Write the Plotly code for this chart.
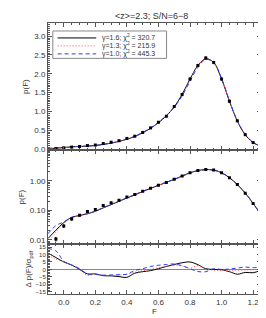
import plotly.graph_objects as go

# ---- data ----
F_model = [-0.10, -0.05, 0.00, 0.05, 0.10, 0.15, 0.20, 0.25, 0.30, 0.35, 0.40, 0.45, 0.50, 0.55,
           0.60, 0.65, 0.70, 0.75, 0.80, 0.85, 0.90, 0.95, 1.00, 1.05, 1.10, 1.15, 1.20, 1.25]
p_g16 = [0.011, 0.021, 0.038, 0.057, 0.066, 0.076, 0.092, 0.120, 0.155, 0.200, 0.260, 0.330, 0.430, 0.550,
         0.700, 0.880, 1.120, 1.450, 1.860, 2.220, 2.400, 2.300, 1.860, 1.270, 0.740, 0.380, 0.170, 0.070]
p_g13 = [0.008, 0.018, 0.035, 0.055, 0.066, 0.075, 0.093, 0.122, 0.158, 0.205, 0.262, 0.335, 0.432, 0.552,
         0.705, 0.885, 1.110, 1.420, 1.840, 2.220, 2.390, 2.300, 1.870, 1.280, 0.745, 0.385, 0.172, 0.071]
p_g10 = [0.016, 0.030, 0.040, 0.058, 0.068, 0.077, 0.094, 0.123, 0.160, 0.207, 0.265, 0.340, 0.440, 0.560,
         0.710, 0.890, 1.110, 1.410, 1.800, 2.170, 2.380, 2.300, 1.880, 1.290, 0.750, 0.390, 0.175, 0.072]

F_data = [-0.05, 0.00, 0.05, 0.10, 0.15, 0.20, 0.25, 0.30, 0.35, 0.40, 0.45, 0.50, 0.55,
          0.60, 0.65, 0.70, 0.75, 0.80, 0.85, 0.90, 0.95, 1.00, 1.05, 1.10, 1.15, 1.20, 1.25]
p_data = [0.0105, 0.029, 0.050, 0.067, 0.090, 0.105, 0.145, 0.180, 0.220, 0.280, 0.340, 0.440, 0.560,
          0.710, 0.870, 1.130, 1.450, 1.860, 2.220, 2.420, 2.300, 1.860, 1.270, 0.750, 0.380, 0.170, 0.070]
p_err = [0.0015, 0.003, 0.004, 0.004, 0.005, 0.005, 0.006, 0.007, 0.008, 0.009, 0.010, 0.012, 0.014,
         0.016, 0.018, 0.020, 0.024, 0.028, 0.030, 0.032, 0.030, 0.028, 0.024, 0.018, 0.012, 0.008, 0.005]

res_g16 = [11.0, 8.0, 5.0, 3.0, 0.0, -3.0, -3.0, -4.2, -4.3, -4.8, -5.3, -2.5, -1.5, -0.8,
           0.5, 2.0, 3.3, 4.5, 5.0, 3.2, 0.5, 0.0, -0.2, -1.5, -3.2, -2.0, -2.2, -0.5]
res_g13 = [9.5, 7.0, 5.0, 3.0, 0.0, -4.0, -3.0, -4.0, -4.2, -3.8, -3.2, -1.9, -0.8, 0.0,
           1.2, 2.0, 2.8, 2.3, 0.9, 2.5, 0.3, -0.5, -0.7, -0.6, -0.5, -0.4, -0.3, 0.0]
res_g10 = [14.0, 12.5, 5.5, 3.0, 0.5, -3.0, -3.3, -3.8, -3.7, -3.5, -3.2, -0.7, 0.5, 2.0,
           2.8, 3.3, 3.7, 2.5, 0.5, -1.4, -1.5, 0.5, 0.0, 0.3, 0.9, 1.6, 1.2, 1.5]

legend_names = ["γ=1.6; χ<sup>2</sup> = 320.7", "γ=1.3; χ<sup>2</sup> = 215.9", "γ=1.0; χ<sup>2</sup> = 445.3"]
title_text = "&lt;z&gt;=2.3; S/N=6−8"

# ---- styles ----
models = [
    (p_g16, res_g16, dict(color="black", width=1, dash="solid")),
    (p_g13, res_g13, dict(color="#ff5050", width=1, dash="1px,2px")),
    (p_g10, res_g10, dict(color="#2a3cff", width=1, dash="4px,3px")),
]
FONT = "Liberation Sans, Arial, sans-serif"
W, H = 266, 318
ML, MR, MT, MB = 32, 13, 15, 31
PW, PH = W - ML - MR, H - MT - MB


def px(xp):
    return (xp - ML) / PW


def py(yp):
    return 1 - (yp - MT) / PH


fig = go.Figure()
for i, (p, r, ln) in enumerate(models):
    fig.add_trace(go.Scatter(x=F_model, y=p, mode="lines", line=dict(shape="spline", **ln),
                             name=legend_names[i], xaxis="x", yaxis="y", showlegend=False))
    fig.add_trace(go.Scatter(x=F_model, y=p, mode="lines", line=dict(shape="spline", **ln),
                             xaxis="x2", yaxis="y2", showlegend=False))
    fig.add_trace(go.Scatter(x=F_model, y=r, mode="lines", line=dict(shape="spline", **ln),
                             xaxis="x3", yaxis="y3", showlegend=False))

for xa, ya in [("x", "y"), ("x2", "y2")]:
    fig.add_trace(go.Scatter(x=F_data, y=p_data, mode="markers",
                             marker=dict(symbol="square", size=3, color="black"),
                             error_y=dict(type="data", array=p_err, color="black", thickness=1, width=0.5),
                             xaxis=xa, yaxis=ya, showlegend=False))

# hand-built compact legend (box, sample lines, labels)
shapes = [dict(type="rect", xref="paper", yref="paper", x0=px(37), x1=px(155), y0=py(50.5), y1=py(23),
               line=dict(color="#888", width=1), fillcolor="white", layer="above")]
annotations = []
row_y = [30, 38, 46]
for i, (p, r, ln) in enumerate(models):
    shapes.append(dict(type="line", xref="paper", yref="paper", x0=px(42), x1=px(82),
                       y0=py(row_y[i]), y1=py(row_y[i]),
                       line=dict(color=ln["color"], width=1, dash=ln["dash"]), layer="above"))
    annotations.append(dict(text=legend_names[i], xref="paper", yref="paper", x=px(86), y=py(row_y[i]),
                            xanchor="left", yanchor="middle", showarrow=False,
                            font=dict(size=7, family=FONT, color="#333")))

axis_common = dict(showline=True, linecolor="#555", linewidth=1, mirror="allticks", ticks="inside",
                   ticklen=4, tickcolor="#555", showgrid=False, zeroline=False,
                   tickfont=dict(size=8, family=FONT, color="#333"))
xrange = [-0.1, 1.25]
xminor = dict(ticks="inside", ticklen=2, dtick=0.05, tickcolor="#555")

d_top = [0.531, 1.0]
d_mid = [0.184, 0.531]
d_bot = [0.0, 0.184]

fig.update_layout(
    width=W, height=H,
    margin=dict(l=ML, r=MR, t=MT, b=MB),
    plot_bgcolor="white", paper_bgcolor="white",
    font=dict(family=FONT, size=8, color="#333"),
    showlegend=False,
    shapes=shapes, annotations=annotations,
    title=dict(text=title_text, x=0.54, xanchor="center", y=0.985, yanchor="top",
               font=dict(size=9, family=FONT, color="#333")),
    xaxis=dict(axis_common, range=xrange, domain=[0, 1], anchor="y", showticklabels=False,
               dtick=0.2, tick0=0, minor=xminor),
    xaxis2=dict(axis_common, range=xrange, domain=[0, 1], anchor="y2", showticklabels=False,
                dtick=0.2, tick0=0, minor=xminor),
    xaxis3=dict(axis_common, range=xrange, domain=[0, 1], anchor="y3", dtick=0.2, tick0=0,
                tickformat=".1f", minor=xminor,
                title=dict(text="F", font=dict(size=8, family=FONT, color="#333"), standoff=2)),
    yaxis=dict(axis_common, domain=d_top, range=[-0.03, 3.35], dtick=0.5, tick0=0, tickformat=".1f",
               minor=dict(ticks="inside", ticklen=2, dtick=0.05, tickcolor="#555"),
               title=dict(text="p(F)", font=dict(size=8, family=FONT, color="#333"), standoff=4)),
    yaxis2=dict(axis_common, domain=d_mid, type="log", range=[-2.15, 1.04],
                tickvals=[0.01, 0.1, 1.0], ticktext=["0.01", "0.10", "1.00"],
                minor=dict(ticks="inside", ticklen=2, tickcolor="#555",
                           tickvals=[0.008, 0.009, 0.02, 0.03, 0.04, 0.05, 0.06, 0.07, 0.08, 0.09,
                                     0.2, 0.3, 0.4, 0.5, 0.6, 0.7, 0.8, 0.9, 2, 3, 4, 5, 6, 7, 8, 9, 10]),
                title=dict(text="p(F)", font=dict(size=8, family=FONT, color="#333"), standoff=4)),
    yaxis3=dict(axis_common, domain=d_bot, range=[-16.5, 17],
                tickvals=[-15, -10, -5, 0, 5, 10, 15],
                ticktext=["−15", "−10", "−5", "0", "5", "10", "15"],
                tickfont=dict(size=6, family=FONT, color="#333"),
                minor=dict(ticks="inside", ticklen=2, dtick=1, tickcolor="#555"),
                zeroline=True, zerolinecolor="#888", zerolinewidth=1,
                title=dict(text="Δ p(F)/σ<sub>pdf</sub>", font=dict(size=8, family=FONT, color="#333"),
                           standoff=2)),
)

fig.write_html("out.html")
